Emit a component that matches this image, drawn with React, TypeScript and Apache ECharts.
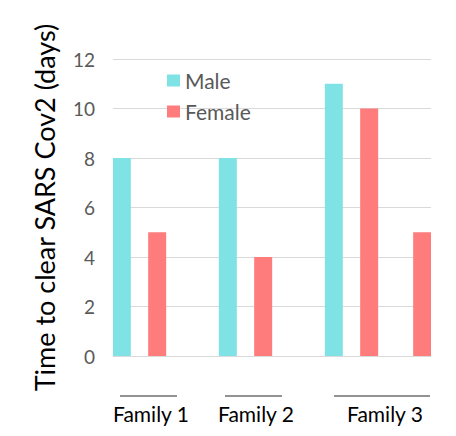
import React, { useEffect, useRef } from "react";
import * as echarts from "echarts";

const slotCount = 18;
const maleSlots = [0, 6, 12];
const maleValues = [8, 8, 11];
const femaleSlots = [2, 8, 14, 17];
const femaleValues = [5, 4, 10, 5];
const familyLabels = ["Family 1", "Family 2", "Family 3"];
const yTicks = [0, 2, 4, 6, 8, 10, 12];

const FONT = "Lato";

function buildSeriesData(slots: number[], values: number[]) {
  const arr: (number | null)[] = new Array(slotCount).fill(null);
  slots.forEach((s, i) => {
    arr[s] = values[i];
  });
  return arr;
}

export default function App() {
  const ref = useRef<HTMLDivElement>(null);
  useEffect(() => {
    document.body.style.margin = "0";
    if (!ref.current) return;
    const chart = echarts.init(ref.current, undefined, { renderer: "svg" });
    const categories = Array.from({ length: slotCount }, (_, i) => String(i));
    const familyLayout = [
      { x1: 120, x2: 177, cx: 151 },
      { x1: 225, x2: 282, cx: 256 },
      { x1: 334, x2: 430, cx: 385 },
    ];
    const graphics: any[] = [];
    familyLabels.forEach((label, i) => {
      const f = familyLayout[i];
      graphics.push({
        type: "line",
        shape: { x1: f.x1, y1: 396, x2: f.x2, y2: 396 },
        style: { stroke: "#262626", lineWidth: 1 },
      });
      graphics.push({
        type: "text",
        x: f.cx,
        y: 413,
        style: {
          text: label,
          fill: "#000000",
          font: `21px ${FONT}`,
          textAlign: "center",
          textVerticalAlign: "middle",
        },
      });
    });
    chart.setOption({
      animation: false,
      grid: { left: 113, right: 25, top: 59, bottom: 80, outerBoundsMode: "none" },
      legend: {
        orient: "vertical",
        left: 162,
        top: 65,
        itemWidth: 13,
        itemHeight: 12,
        itemGap: 10,
        icon: "rect",
        textStyle: { fontFamily: FONT, fontSize: 21, color: "#595959" },
        data: ["Male", "Female"],
      },
      xAxis: {
        type: "category",
        data: categories,
        axisLine: { show: true, lineStyle: { color: "#d9d9d9", width: 1 } },
        axisTick: { show: false },
        axisLabel: { show: false },
        splitLine: { show: false },
      },
      yAxis: {
        type: "value",
        min: yTicks[0],
        max: yTicks[yTicks.length - 1],
        interval: 2,
        name: "Time to clear SARS Cov2 (days)",
        nameLocation: "middle",
        nameRotate: 90,
        nameGap: 55,
        nameMoveOverlap: false,
        nameTextStyle: { fontFamily: FONT, fontSize: 27, color: "#000000" },
        axisLine: { show: false },
        axisTick: { show: false },
        axisLabel: { fontFamily: FONT, fontSize: 19, color: "#595959", margin: 18 },
        splitLine: { lineStyle: { color: "#d9d9d9", width: 1 } },
      },
      series: [
        {
          name: "Male",
          type: "bar",
          data: buildSeriesData(maleSlots, maleValues),
          barWidth: 18,
          barGap: "-100%",
          itemStyle: { color: "#7fe3e6" },
        },
        {
          name: "Female",
          type: "bar",
          data: buildSeriesData(femaleSlots, femaleValues),
          barWidth: 18,
          barGap: "-100%",
          itemStyle: { color: "#ff7c7c" },
        },
      ],
      graphic: graphics,
    });
    return () => chart.dispose();
  }, []);
  return <div ref={ref} style={{ width: 456, height: 436 }} />;
}
